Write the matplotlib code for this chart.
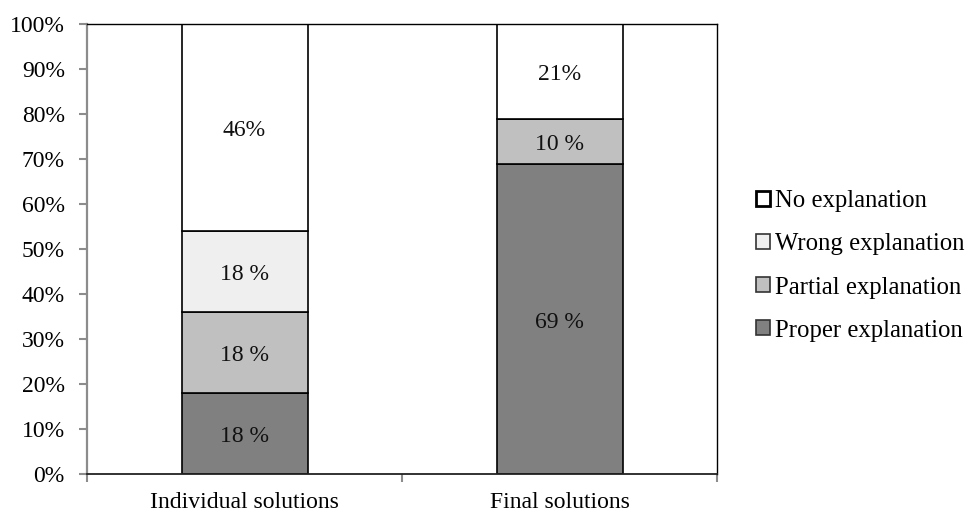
import matplotlib
matplotlib.use("Agg")
import matplotlib.pyplot as plt
from matplotlib.patches import Patch
import numpy as np

# Share of solutions (%) by explanation quality
categories = ["Individual solutions", "Final solutions"]
series_names = ["Proper explanation", "Partial explanation", "Wrong explanation", "No explanation"]
proper = [18, 69]
partial = [18, 10]
wrong = [18, 0]
none_ = [46, 21]
label_texts = [
    ["18 %", "69 %"],
    ["18 %", "10 %"],
    ["18 %", ""],
    ["46%", "21%"],
]
colors = ["#808080", "#c0c0c0", "#efefef", "#ffffff"]

plt.rcParams["font.family"] = ["Liberation Serif", "DejaVu Serif"]
FS = 17
LEG_FS = 17.8

fig = plt.figure(figsize=(9.65, 5.12), dpi=100)
ax = fig.add_axes([87 / 965, 1 - 474 / 512, (717 - 87) / 965, (474 - 24) / 512])

x = np.arange(len(categories))
series = [proper, partial, wrong, none_]
bottom = np.zeros(len(categories))
for vals, col, texts in zip(series, colors, label_texts):
    vals = np.array(vals, dtype=float)
    ax.bar(x, vals, width=0.4, bottom=bottom, color=col,
           edgecolor="black", linewidth=1.2, zorder=2)
    for xi, b, v, t in zip(x, bottom, vals, texts):
        if v > 0 and t:
            ax.annotate(t, (xi, b + v / 2), xytext=(0, -2.5), textcoords="offset points",
                        ha="center", va="center", fontsize=FS, color="#111111", zorder=3)
    bottom += vals

ax.set_xlim(-0.5, 1.5)
ax.set_ylim(0, 100)
ax.set_yticks(np.arange(0, 101, 10))
ax.set_yticklabels([f"{v}%" for v in range(0, 101, 10)], fontsize=FS)

ax.set_xticks([-0.5, 0.5, 1.5])
ax.set_xticklabels([])
ax.set_xticks(x, minor=True)
ax.set_xticklabels(categories, minor=True, fontsize=FS)
ax.tick_params(axis="x", which="minor", length=0, pad=13)
ax.tick_params(axis="x", which="major", length=6, width=1.5, color="#8c8c8c", direction="out")
ax.tick_params(axis="y", length=6, width=1.5, color="#8c8c8c", direction="out", pad=10)

for side in ["top", "right"]:
    ax.spines[side].set_color("black")
    ax.spines[side].set_linewidth(1.0)
ax.spines["left"].set_color("#8c8c8c")
ax.spines["left"].set_linewidth(1.6)
ax.spines["bottom"].set_color("#222222")
ax.spines["bottom"].set_linewidth(1.3)

# Legend, listed top to bottom from the last stacked series
handles = []
for name, col in zip(series_names[::-1], colors[::-1]):
    lw = 2.0 if name == "No explanation" else 1.2
    ec = "black" if name == "No explanation" else "#333333"
    handles.append(Patch(facecolor=col, edgecolor=ec, linewidth=lw, label=name))
fig.legend(handles=handles, loc="center left",
           bbox_to_anchor=(756 / 965, 1 - 266 / 512), borderaxespad=0,
           frameon=False, fontsize=LEG_FS, handlelength=0.58, handleheight=0.58,
           handletextpad=0.2, labelspacing=0.85, borderpad=0)

fig.savefig("out.png", dpi=100)
